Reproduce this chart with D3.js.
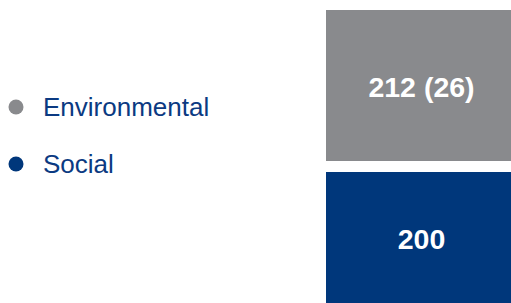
<!DOCTYPE html>
<html>
<head>
<meta charset="utf-8">
<script src="https://cdn.jsdelivr.net/npm/d3@7"></script>
<style>
  html, body { margin: 0; padding: 0; background: #ffffff; overflow: hidden; }
  svg { display: block; font-family: "Liberation Sans", Arial, sans-serif; }
</style>
</head>
<body>
<svg id="chart" width="511" height="303"></svg>
<script>
// --- Daten ---
const categories = ['Environmental', 'Social'];
const values = [212, 200];
const valueLabels = ['212 (26)', '200'];

// --- Layout ---
const W = 511, H = 303;
const COLORS = ['#898a8d', '#00377b'];
const TEXT_COLOR = '#0b3a82';
const GAP = 11;           // Abstand zwischen den Blöcken
const TOP = 10;

const svg = d3.select('#chart');

// Höhe pro Einheit
const yScale = d3.scaleLinear().domain([0, 212]).range([0, 151]);
// Eine Spalte, rechts angeschnitten
const xScale = d3.scaleBand().domain(['total']).range([326, 517]).padding(0);

// Stapel berechnen (von oben nach unten)
let cursor = TOP;
const blocks = categories.map((c, i) => {
    const h = yScale(values[i]);
    const b = { cat: c, value: values[i], label: valueLabels[i], y: cursor, h: h, color: COLORS[i] };
    cursor += h + GAP;
    return b;
});

svg.selectAll('rect.block')
    .data(blocks)
    .join('rect')
    .attr('class', 'block')
    .attr('x', xScale('total'))
    .attr('width', xScale.bandwidth())
    .attr('y', d => d.y)
    .attr('height', d => d.h)
    .attr('fill', d => d.color);

// Werte-Beschriftung in der Mitte des sichtbaren Teils
svg.selectAll('text.val')
    .data(blocks)
    .join('text')
    .attr('class', 'val')
    .attr('x', xScale('total') + xScale.bandwidth() / 2)
    .attr('y', d => {
        const bottom = Math.min(d.y + d.h, H);
        return (d.y + bottom) / 2 + 1.5;
    })
    .attr('dy', '0.35em')
    .attr('text-anchor', 'middle')
    .attr('font-size', '28.5px')
    .attr('font-weight', 'bold')
    .attr('fill', '#ffffff')
    .text(d => d.label);

// --- Legende ---
const legendY = d3.scalePoint().domain(categories).range([107, 164]);

const legend = svg.selectAll('g.legend')
    .data(blocks)
    .join('g')
    .attr('class', 'legend')
    .attr('transform', d => `translate(0,${legendY(d.cat)})`);

legend.append('circle')
    .attr('cx', 16)
    .attr('cy', 0)
    .attr('r', 7.5)
    .attr('fill', d => d.color);

legend.append('text')
    .attr('x', 43)
    .attr('y', 0)
    .attr('dy', '0.35em')
    .attr('font-size', '26px')
    .attr('fill', TEXT_COLOR)
    .text(d => d.cat);
</script>
</body>
</html>
